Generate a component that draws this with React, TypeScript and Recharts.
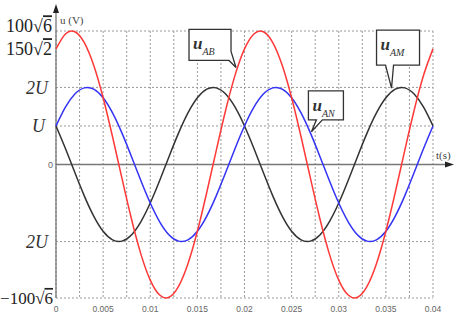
import React from "react";
import {
  LineChart,
  Line,
  XAxis,
  YAxis,
  CartesianGrid,
  ReferenceLine,
  ReferenceDot,
} from "recharts";

// time samples (s)
const time = [
  0, 0.001, 0.002, 0.003, 0.004, 0.005, 0.006, 0.007, 0.008, 0.009, 0.01,
  0.011, 0.012, 0.013, 0.014, 0.015, 0.016, 0.017, 0.018, 0.019, 0.02,
  0.021, 0.022, 0.023, 0.024, 0.025, 0.026, 0.027, 0.028, 0.029, 0.03,
  0.031, 0.032, 0.033, 0.034, 0.035, 0.036, 0.037, 0.038, 0.039, 0.04,
];

// u_AB (V)
const uAB = [
  212.1, 239.5, 243.6, 223.7, 182.0, 122.5, 50.9, -25.6, -99.6, -163.9,
  -212.1, -239.5, -243.6, -223.7, -182.0, -122.5, -50.9, 25.6, 99.6, 163.9,
  212.1, 239.5, 243.6, 223.7, 182.0, 122.5, 50.9, -25.6, -99.6, -163.9,
  -212.1, -239.5, -243.6, -223.7, -182.0, -122.5, -50.9, 25.6, 99.6, 163.9,
  212.1,
];

// u_AN (V), blue curve
const uAN = [
  70.7, 105.1, 129.2, 140.6, 138.3, 122.5, 94.6, 57.5, 14.8, -29.4,
  -70.7, -105.1, -129.2, -140.6, -138.3, -122.5, -94.6, -57.5, -14.8, 29.4,
  70.7, 105.1, 129.2, 140.6, 138.3, 122.5, 94.6, 57.5, 14.8, -29.4,
  -70.7, -105.1, -129.2, -140.6, -138.3, -122.5, -94.6, -57.5, -14.8, 29.4,
  70.7,
];

// u_AM (V), black curve
const uAM = [
  70.7, 29.4, -14.8, -57.5, -94.6, -122.5, -138.3, -140.6, -129.2, -105.1,
  -70.7, -29.4, 14.8, 57.5, 94.6, 122.5, 138.3, 140.6, 129.2, 105.1,
  70.7, 29.4, -14.8, -57.5, -94.6, -122.5, -138.3, -140.6, -129.2, -105.1,
  -70.7, -29.4, 14.8, 57.5, 94.6, 122.5, 138.3, 140.6, 129.2, 105.1,
  70.7,
];

const xTicks = [
  0, 0.0025, 0.005, 0.0075, 0.01, 0.0125, 0.015, 0.0175, 0.02, 0.0225, 0.025,
  0.0275, 0.03, 0.0325, 0.035, 0.0375, 0.04,
];
const yTicks = [-244.9, -141.4, 0, 70.7, 141.4, 212.1, 244.9];
const yGrid = [244.9, 141.4, 70.7, -141.4, -244.9];

const data = time.map((t, i) => ({ t, uAB: uAB[i], uAN: uAN[i], uAM: uAM[i] }));

const SERIF = "'Liberation Serif', 'DejaVu Serif', serif";
const SANS = "'Liberation Sans', Arial, sans-serif";

const YTick = (props: any) => {
  const { y, payload } = props;
  const v = payload.value;
  const big = { fontFamily: SERIF, fontSize: 18, fill: "#222" };
  const ital = { fontFamily: SERIF, fontSize: 18, fill: "#333", fontStyle: "italic" };
  if (v === 244.9)
    return (
      <text x={52} y={y - 5} dy="0.35em" textAnchor="end" {...big}>
        100√<tspan textDecoration="overline">6</tspan>
      </text>
    );
  if (v === 212.1)
    return (
      <text x={52} y={y} dy="0.35em" textAnchor="end" {...big}>
        150√<tspan textDecoration="overline">2</tspan>
      </text>
    );
  if (v === -244.9)
    return (
      <text x={53} y={y} dy="0.35em" textAnchor="end" {...big} fontSize={17}>
        −100√<tspan textDecoration="overline">6</tspan>
      </text>
    );
  if (v === 141.4 || v === -141.4)
    return (
      <text x={48} y={y} dy="0.35em" textAnchor="end" {...ital}>
        2U
      </text>
    );
  if (v === 70.7)
    return (
      <text x={45} y={y} dy="0.35em" textAnchor="end" {...ital}>
        U
      </text>
    );
  return (
    <text x={53} y={y} dy="0.35em" textAnchor="end" fontFamily={SANS} fontSize={9} fill="#666">
      0
    </text>
  );
};

const fmtX = (t: number) => {
  const k = Math.round(t / 0.0025);
  if (k % 2 !== 0) return "";
  return String(Number(t.toFixed(4)));
};

const YAxisArrow = (p: any) => {
  const x = p.x1;
  const bottom = Math.max(p.y1, p.y2);
  return (
    <g>
      <line x1={x} y1={bottom} x2={x} y2={10} stroke="#777" strokeWidth={1.3} />
      <polygon points={`${x},4 ${x - 3},13 ${x + 3},13`} fill="#222" />
      <text x={x + 4} y={24} fontFamily={SERIF} fontSize={11} fill="#444">
        u (V)
      </text>
    </g>
  );
};

const XAxisArrow = (p: any) => {
  const y = p.y1;
  const left = Math.min(p.x1, p.x2);
  const right = Math.max(p.x1, p.x2);
  return (
    <g>
      <line x1={left} y1={y} x2={right + 16} y2={y} stroke="#777" strokeWidth={1.3} />
      <polygon points={`${right + 21},${y} ${right + 12},${y - 3} ${right + 12},${y + 3}`} fill="#222" />
      <text x={right + 3} y={y - 6} fontFamily={SERIF} fontSize={11} fill="#444">
        t(s)
      </text>
    </g>
  );
};

// speech-bubble label; outline given as offsets from the point the tail touches
const bubble = (sub: string, left: number, top: number, outline: number[][]) => (p: any) => {
  const { cx, cy } = p;
  const d = "M " + outline.map(([dx, dy]) => `${cx + dx},${cy + dy}`).join(" L ") + " Z";
  return (
    <g>
      <path d={d} fill="#fff" stroke="#333" strokeWidth={1.3} />
      <text
        x={cx + left + 4}
        y={cy + top + 20}
        fontFamily={SERIF}
        fontStyle="italic"
        fontWeight="bold"
        fontSize={17}
        fill="#333"
      >
        u
        <tspan fontSize={10} fontWeight="normal" dy={6}>
          {sub}
        </tspan>
      </text>
    </g>
  );
};

const bubbleAB = bubble("AB", -47, -38, [
  [-47, -38], [-5, -38], [-5, -16], [0, 0], [-7, -7], [-47, -7],
]);
const bubbleAN = bubble("AN", -3, -41, [
  [-3, -41], [32, -41], [32, -12], [11, -12], [0, 0], [5, -12], [-3, -12],
]);
const bubbleAM = bubble("AM", -15, -58, [
  [-15, -58], [28, -58], [28, -23], [2, -23], [0, 0], [-6, -23], [-15, -23],
]);

export default function App() {
  return (
    <div style={{ position: "absolute", left: 0, top: 0, background: "#fff" }}>
      <LineChart
        width={463}
        height={321}
        data={data}
        margin={{ top: 31, right: 30, bottom: 0, left: 0 }}
      >
        <CartesianGrid horizontal={false} stroke="#999" strokeDasharray="2 2" />
        {yGrid.map((v) => (
          <ReferenceLine key={v} y={v} stroke="#999" strokeDasharray="2 2" />
        ))}
        <XAxis
          dataKey="t"
          type="number"
          domain={[0, 0.04]}
          ticks={xTicks}
          tickFormatter={fmtX}
          axisLine={false}
          tickLine={false}
          height={23}
          interval={0}
          tick={{ fill: "#666", fontSize: 8.5, fontFamily: SANS }}
        />
        <YAxis
          type="number"
          domain={[-244.9, 244.9]}
          ticks={yTicks}
          axisLine={false}
          tickLine={false}
          width={56}
          interval={0}
          tick={<YTick />}
        />
        <ReferenceLine y={0} shape={XAxisArrow} ifOverflow="visible" />
        <ReferenceLine x={0} shape={YAxisArrow} ifOverflow="visible" />
        <Line type="natural" dataKey="uAM" stroke="#333" strokeWidth={1.5} dot={false} isAnimationActive={false} />
        <Line type="natural" dataKey="uAN" stroke="#3333f5" strokeWidth={1.5} dot={false} isAnimationActive={false} />
        <Line type="natural" dataKey="uAB" stroke="#ff3838" strokeWidth={1.5} dot={false} isAnimationActive={false} />
        <ReferenceDot x={0.0191} y={178} shape={bubbleAB} ifOverflow="visible" />
        <ReferenceDot x={0.0271} y={60} shape={bubbleAN} ifOverflow="visible" />
        <ReferenceDot x={0.0356} y={140} shape={bubbleAM} ifOverflow="visible" />
      </LineChart>
    </div>
  );
}
